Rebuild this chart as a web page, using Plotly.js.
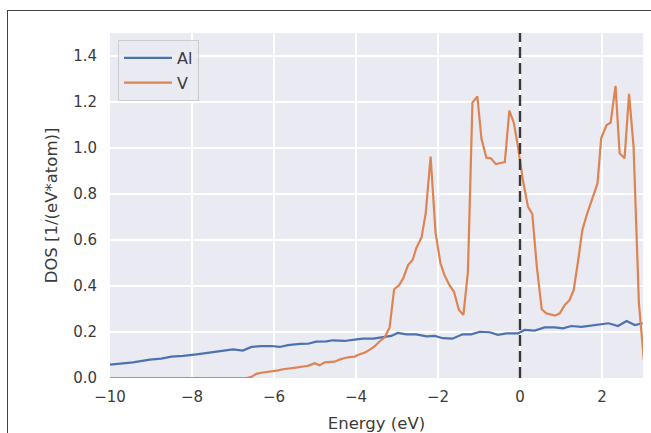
<!DOCTYPE html>
<html>
<head>
<meta charset="utf-8">
<script src="https://cdn.plot.ly/plotly-3.0.1.min.js"></script>
<style>
  html, body { margin: 0; padding: 0; background: #ffffff; overflow: hidden; }
  #wrap { position: relative; width: 651px; height: 433px; }
  #chart { position: absolute; left: 0; top: 0; width: 651px; height: 433px; }
  #frame { position: absolute; left: 7px; top: 10px; width: 700px; height: 500px;
           border-left: 1px solid #444; border-top: 1px solid #444; pointer-events: none; }
</style>
</head>
<body>
<div id="wrap">
  <div id="chart"></div>
  <div id="frame"></div>
</div>
<script>
// Energy (eV) and DOS values
const alEnergy = [-10.0, -9.44, -9.03, -8.75, -8.5, -8.22, -7.89, -7.57, -7.28, -7.0, -6.76, -6.55, -6.31, -6.06, -5.86, -5.66, -5.37, -5.17, -4.97, -4.72, -4.56, -4.28, -3.99, -3.83, -3.58, -3.30, -3.14, -2.98, -2.77, -2.53, -2.28, -2.08, -1.88, -1.65, -1.40, -1.19, -0.98, -0.74, -0.54, -0.33, -0.05, 0.11, 0.36, 0.60, 0.85, 1.05, 1.25, 1.50, 1.70, 1.94, 2.16, 2.39, 2.60, 2.80, 2.99];
const alDos = [0.058, 0.068, 0.080, 0.084, 0.093, 0.096, 0.103, 0.110, 0.117, 0.124, 0.119, 0.135, 0.139, 0.139, 0.135, 0.143, 0.148, 0.149, 0.158, 0.159, 0.164, 0.161, 0.168, 0.171, 0.171, 0.177, 0.183, 0.196, 0.190, 0.190, 0.181, 0.183, 0.173, 0.171, 0.190, 0.190, 0.201, 0.199, 0.188, 0.194, 0.194, 0.209, 0.206, 0.220, 0.220, 0.216, 0.226, 0.222, 0.227, 0.230, 0.238, 0.226, 0.248, 0.230, 0.238];

const vEnergy = [-10.0, -8.0, -6.67, -6.55, -6.43, -6.31, -6.19, -6.02, -5.90, -5.78, -5.66, -5.54, -5.42, -5.29, -5.17, -5.01, -4.89, -4.76, -4.64, -4.52, -4.40, -4.28, -4.15, -4.03, -3.91, -3.79, -3.67, -3.55, -3.42, -3.30, -3.18, -3.07, -2.95, -2.85, -2.73, -2.62, -2.53, -2.40, -2.30, -2.18, -2.06, -1.94, -1.84, -1.71, -1.61, -1.49, -1.38, -1.27, -1.16, -1.04, -0.94, -0.82, -0.71, -0.59, -0.48, -0.37, -0.26, -0.15, -0.05, 0.07, 0.195, 0.30, 0.41, 0.53, 0.64, 0.75, 0.85, 0.97, 1.09, 1.21, 1.31, 1.42, 1.52, 1.64, 1.77, 1.89, 1.98, 2.11, 2.21, 2.33, 2.43, 2.55, 2.66, 2.77, 2.90, 3.02];
const vDos = [0.0, 0.0, 0.0, 0.005, 0.018, 0.023, 0.026, 0.028, 0.033, 0.038, 0.040, 0.045, 0.046, 0.050, 0.053, 0.064, 0.055, 0.068, 0.069, 0.071, 0.080, 0.087, 0.091, 0.093, 0.103, 0.110, 0.122, 0.137, 0.160, 0.177, 0.220, 0.386, 0.403, 0.433, 0.491, 0.513, 0.564, 0.612, 0.716, 0.963, 0.632, 0.499, 0.446, 0.400, 0.375, 0.296, 0.274, 0.462, 1.197, 1.224, 1.040, 0.958, 0.955, 0.930, 0.935, 0.939, 1.163, 1.110, 1.006, 0.861, 0.744, 0.713, 0.484, 0.299, 0.281, 0.274, 0.271, 0.281, 0.317, 0.339, 0.383, 0.513, 0.643, 0.716, 0.781, 0.846, 1.042, 1.100, 1.110, 1.270, 0.977, 0.955, 1.235, 1.006, 0.325, 0.080];

const xTicks = [-10, -8, -6, -4, -2, 0, 2];
const xTickText = ['\u221210', '\u22128', '\u22126', '\u22124', '\u22122', '0', '2'];
const yTicks = [0.0, 0.2, 0.4, 0.6, 0.8, 1.0, 1.2, 1.4];
const yTickText = ['0.0', '0.2', '0.4', '0.6', '0.8', '1.0', '1.2', '1.4'];
const fermiLevel = [0, 0];
const fermiSpan = [0, 1.5];

const txt = '#3b3b3b';
const traces = [
  { x: alEnergy, y: alDos, name: 'Al', type: 'scatter', mode: 'lines', legendgroup: 'a',
    line: { color: '#4C72B0', width: 2.2 } },
  { x: vEnergy, y: vDos, name: 'V', type: 'scatter', mode: 'lines', legendgroup: 'b',
    line: { color: '#DD8452', width: 2.2 } },
  { x: fermiLevel, y: fermiSpan, type: 'scatter', mode: 'lines', showlegend: false,
    hoverinfo: 'skip', line: { color: '#3a3a3a', width: 2.4, dash: '11px,5px' } }
];

const layout = {
  width: 651, height: 433,
  margin: { l: 110, r: 8, t: 33, b: 55 },
  paper_bgcolor: 'rgba(0,0,0,0)',
  plot_bgcolor: '#EAEAF2',
  font: { family: 'DejaVu Sans', color: txt, size: 15 },
  showlegend: true,
  legend: {
    x: 0.015, y: 0.98, xanchor: 'left', yanchor: 'top',
    bgcolor: 'rgba(234,234,242,0.85)', bordercolor: '#cccccc', borderwidth: 1,
    itemwidth: 48, tracegroupgap: 1,
    font: { family: 'DejaVu Sans', size: 16, color: txt }
  },
  xaxis: {
    range: [-10, 3], tickmode: 'array', tickvals: xTicks, ticktext: xTickText,
    showgrid: true, gridcolor: '#ffffff', gridwidth: 1.5, zeroline: false,
    showline: false, ticks: '', ticklabelstandoff: 8,
    tickfont: { family: 'DejaVu Sans', size: 15, color: txt },
    title: { text: 'Energy (eV)', font: { family: 'DejaVu Sans', size: 16.5, color: txt }, standoff: 15 }
  },
  yaxis: {
    range: [0, 1.5], tickmode: 'array', tickvals: yTicks, ticktext: yTickText,
    showgrid: true, gridcolor: '#ffffff', gridwidth: 1.5, zeroline: false,
    showline: false, ticks: '', ticklabelstandoff: 12,
    tickfont: { family: 'DejaVu Sans', size: 15, color: txt },
    title: { text: 'DOS [1/(eV*atom)]', font: { family: 'DejaVu Sans', size: 16.5, color: txt }, standoff: 11 }
  }
};

Plotly.newPlot('chart', traces, layout, { displayModeBar: false, staticPlot: true });
</script>
</body>
</html>
